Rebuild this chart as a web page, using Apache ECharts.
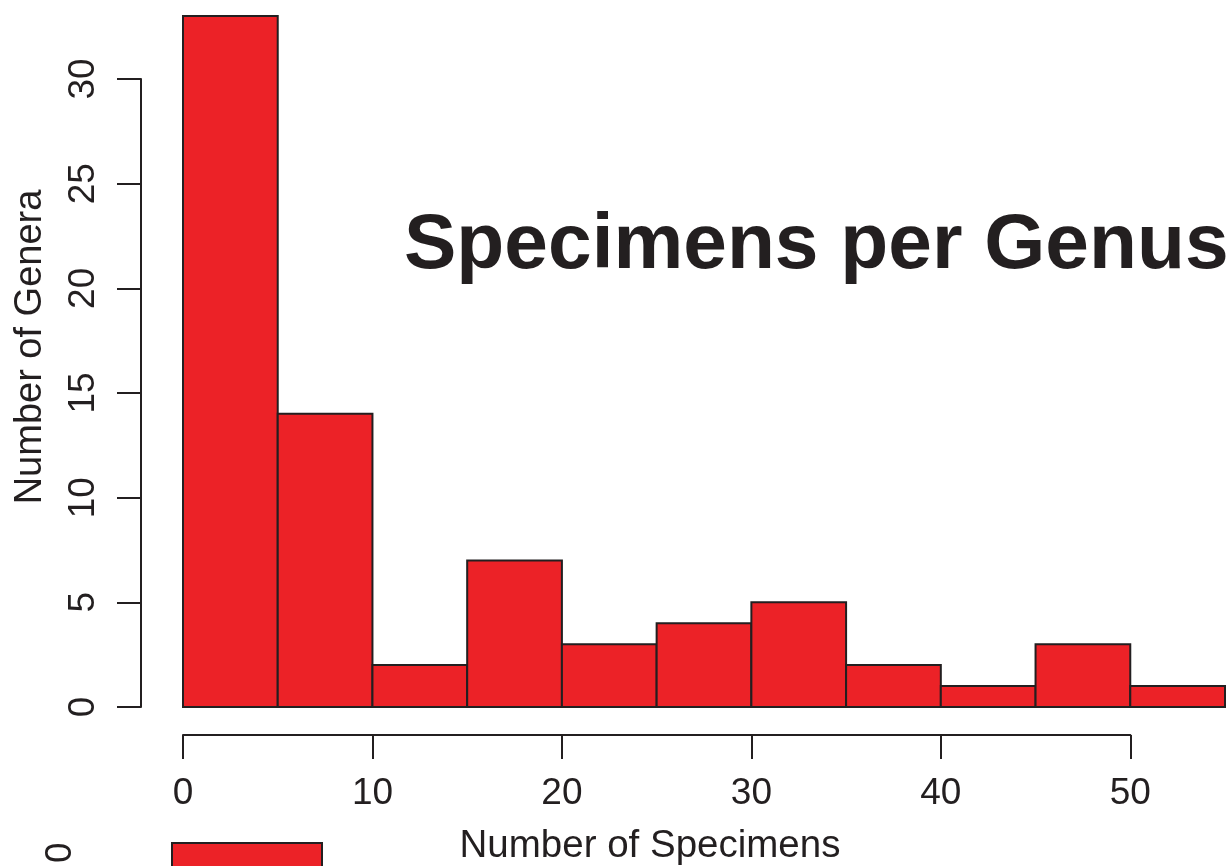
<!DOCTYPE html>
<html><head><meta charset="utf-8">
<script src="https://cdn.jsdelivr.net/npm/echarts@6/dist/echarts.min.js"></script>
<style>html,body{margin:0;padding:0;background:#fff}#c{width:1227px;height:866px}</style>
</head><body><div id="c"></div>
<script>
// ---- data ----
const binStarts = [0, 5, 10, 15, 20, 25, 30, 35, 40, 45, 50];
const binWidth = 5;
const counts = [33, 14, 2, 7, 3, 4, 5, 2, 1, 3, 1];
const xTicks = [0, 10, 20, 30, 40, 50];
const yTicks = [0, 5, 10, 15, 20, 25, 30];
const titleText = 'Specimens per Genus';
const xName = 'Number of Specimens';
const yName = 'Number of Genera';
// fragment of the next (cropped) chart at the bottom
const fragCategories = ['0'];
const fragValues = [1];

// ---- styles ----
const RED = '#EC2227';
const INK = '#231F20';
const FONT = 'Liberation Sans, Arial, Helvetica, sans-serif';

const chart = echarts.init(document.getElementById('c'), null, {renderer: 'canvas'});

const histData = binStarts.map((s, i) => [s, s + binWidth, counts[i]]);
const fragData = fragValues.map((v, i) => [v, i]);

const option = {
  backgroundColor: '#fff',
  animation: false,
  textStyle: {fontFamily: FONT, color: INK},
  grid: [
    {left: 183, right: 2, top: 16, bottom: 159},          // bars
    {left: 183, width: 947.3, top: 725, height: 10},     // x axis (R style, offset)
    {left: 141, width: 10, top: 79, height: 628},        // y axis (R style, offset)
    {left: 172, width: 150, top: 843, height: 22}        // cropped next chart
  ],
  xAxis: [
    {gridIndex: 0, type: 'value', min: 0, max: 55, show: false},
    {gridIndex: 1, type: 'value', min: xTicks[0], max: xTicks[xTicks.length - 1], interval: 10,
      position: 'bottom',
      axisLine: {show: true, lineStyle: {color: INK, width: 2}},
      axisTick: {show: true, length: 24, lineStyle: {color: INK, width: 2}},
      axisLabel: {show: true, fontSize: 37, color: INK, fontFamily: FONT, margin: 40,
        formatter: v => xTicks.indexOf(v) >= 0 ? String(v) : ''},
      splitLine: {show: false}},
    {gridIndex: 2, type: 'value', min: 0, max: 1, show: false},
    {gridIndex: 3, type: 'value', min: 0, max: 1, show: false}
  ],
  yAxis: [
    {gridIndex: 0, type: 'value', min: 0, max: 33, show: false},
    {gridIndex: 1, type: 'value', min: 0, max: 1, show: false},
    {gridIndex: 2, type: 'value', min: yTicks[0], max: yTicks[yTicks.length - 1], interval: 5,
      position: 'left',
      axisLine: {show: true, lineStyle: {color: INK, width: 2}},
      axisTick: {show: true, length: 24, lineStyle: {color: INK, width: 2}},
      axisLabel: {show: true, rotate: 90, fontSize: 37, color: INK, fontFamily: FONT, margin: 39,
        formatter: v => yTicks.indexOf(v) >= 0 ? String(v) : ''},
      splitLine: {show: false}},
    {gridIndex: 3, type: 'category', data: fragCategories, inverse: true,
      axisLine: {show: false}, axisTick: {show: false},
      axisLabel: {show: true, rotate: 90, fontSize: 37, color: INK, fontFamily: FONT, margin: 93}}
  ],
  graphic: [
    {type: 'text', x: 404, y: 246, style: {text: titleText, fill: INK,
      font: 'bold 78.5px ' + FONT, textAlign: 'left', textVerticalAlign: 'middle'}},
    {type: 'text', x: 650, y: 846, style: {text: xName, fill: INK,
      font: '38.5px ' + FONT, textAlign: 'center', textVerticalAlign: 'middle'}},
    {type: 'text', x: 31, y: 347, rotation: Math.PI / 2, style: {text: yName, fill: INK,
      font: '38px ' + FONT, textAlign: 'center', textVerticalAlign: 'middle'}}
  ],
  series: [
    {type: 'custom', xAxisIndex: 0, yAxisIndex: 0, data: histData,
      encode: {x: [0, 1], y: 2},
      renderItem: function (params, api) {
        const p0 = api.coord([api.value(0), 0]);
        const p1 = api.coord([api.value(1), api.value(2)]);
        return {type: 'rect',
          shape: {x: p0[0], y: p1[1], width: p1[0] - p0[0], height: p0[1] - p1[1]},
          style: {fill: RED, stroke: INK, lineWidth: 2}};
      }},
    {type: 'custom', xAxisIndex: 3, yAxisIndex: 3, data: fragData, clip: false,
      encode: {x: 0, y: 1},
      renderItem: function (params, api) {
        const p0 = api.coord([0, api.value(1)]);
        const p1 = api.coord([api.value(0), api.value(1)]);
        const band = api.size([0, 1])[1];
        // the bar of the next chart continues below the visible page
        return {type: 'rect',
          shape: {x: p0[0], y: p0[1] - band / 2, width: p1[0] - p0[0], height: band * 2},
          style: {fill: RED, stroke: INK, lineWidth: 2}};
      }}
  ]
};
chart.setOption(option);
</script>
</body></html>
